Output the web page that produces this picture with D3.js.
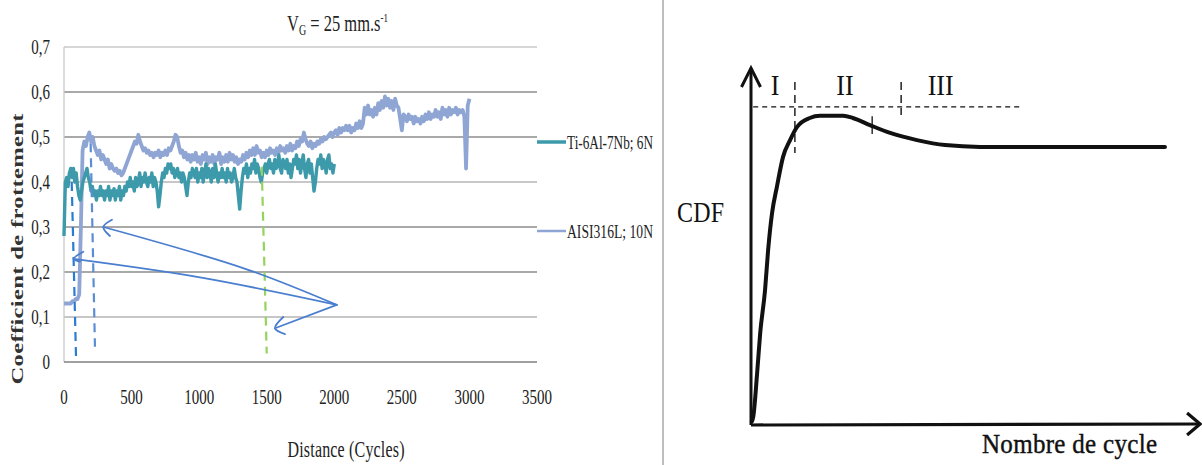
<!DOCTYPE html>
<html><head><meta charset="utf-8">
<script src="https://cdn.jsdelivr.net/npm/d3@7"></script>
<style>html,body{margin:0;padding:0;background:#fff;}svg{display:block;font-family:"Liberation Serif","Times New Roman",serif;}</style>
</head><body>
<svg id="c" width="1202" height="465"></svg>
<script>
// ---------- DATA (left chart) ----------
const yTicks = [0, 0.1, 0.2, 0.3, 0.4, 0.5, 0.6, 0.7];
const xTicks = [0, 500, 1000, 1500, 2000, 2500, 3000, 3500];
const seriesNames = ["Ti-6Al-7Nb; 6N", "AISI316L; 10N"];
const xLabel = "Distance (Cycles)";
const yLabel = "Coefficient de frottement";

const tiStep = 10;
const tiValues = [
0.28,0.40,0.41,0.39,0.42,0.43,0.41,0.43,0.40,0.42,
0.39,0.37,0.36,0.38,0.40,0.41,0.42,0.43,0.41,0.40,
0.38,0.39,0.37,0.38,0.36,0.38,0.37,0.39,0.37,0.38,
0.36,0.38,0.37,0.39,0.36,0.38,0.37,0.385,0.36,0.38,
0.37,0.39,0.36,0.38,0.37,0.39,0.38,0.40,0.39,0.41,
0.39,0.40,0.38,0.41,0.39,0.40,0.42,0.39,0.41,0.40,
0.42,0.40,0.39,0.41,0.40,0.42,0.39,0.41,0.40,0.38,
0.345,0.37,0.40,0.42,0.41,0.43,0.42,0.44,0.43,0.44,
0.42,0.43,0.41,0.42,0.43,0.41,0.42,0.40,0.42,0.41,
0.39,0.37,0.40,0.42,0.41,0.43,0.42,0.41,0.43,0.40,
0.42,0.41,0.43,0.40,0.42,0.44,0.41,0.43,0.42,0.40,
0.43,0.41,0.44,0.42,0.40,0.42,0.41,0.43,0.41,0.42,
0.40,0.43,0.41,0.42,0.40,0.41,0.43,0.41,0.40,0.37,
0.34,0.38,0.41,0.43,0.42,0.44,0.41,0.43,0.42,0.44,
0.43,0.45,0.42,0.44,0.43,0.41,0.40,0.42,0.43,0.44,
0.42,0.44,0.45,0.43,0.44,0.42,0.45,0.43,0.44,0.46,
0.43,0.42,0.45,0.44,0.43,0.45,0.42,0.44,0.41,0.43,
0.45,0.44,0.46,0.43,0.45,0.42,0.44,0.46,0.43,0.41,
0.44,0.45,0.42,0.44,0.41,0.38,0.40,0.43,0.45,0.44,
0.46,0.43,0.45,0.44,0.42,0.45,0.46,0.43,0.44,0.42,
0.44];

const aisiStep = 12.5;
const aisiValues = [
0.13,0.13,0.13,0.13,0.13,0.135,0.135,0.14,
0.14,0.15,0.30,0.47,0.49,0.48,0.50,0.51,
0.49,0.50,0.48,0.47,0.46,0.47,0.45,0.46,
0.45,0.44,0.45,0.43,0.44,0.43,0.425,0.43,
0.42,0.425,0.415,0.42,0.43,0.44,0.45,0.46,
0.47,0.48,0.49,0.485,0.505,0.49,0.48,0.47,
0.475,0.465,0.47,0.46,0.465,0.455,0.465,0.46,
0.47,0.455,0.465,0.46,0.47,0.46,0.475,0.47,
0.48,0.49,0.505,0.50,0.48,0.465,0.47,0.455,
0.465,0.45,0.46,0.445,0.46,0.45,0.465,0.445,
0.455,0.44,0.46,0.45,0.465,0.44,0.455,0.445,
0.46,0.44,0.455,0.45,0.465,0.44,0.455,0.445,
0.46,0.445,0.465,0.45,0.46,0.445,0.455,0.44,
0.45,0.445,0.46,0.45,0.465,0.455,0.47,0.46,
0.475,0.46,0.48,0.465,0.47,0.455,0.465,0.455,
0.47,0.46,0.475,0.465,0.47,0.46,0.475,0.465,
0.48,0.47,0.475,0.465,0.48,0.47,0.485,0.47,
0.48,0.475,0.49,0.48,0.495,0.49,0.51,0.495,
0.485,0.48,0.49,0.475,0.485,0.48,0.49,0.485,
0.495,0.49,0.50,0.495,0.50,0.505,0.51,0.50,
0.51,0.515,0.505,0.52,0.51,0.52,0.515,0.525,
0.515,0.525,0.51,0.52,0.515,0.53,0.52,0.535,
0.52,0.53,0.565,0.55,0.57,0.55,0.56,0.545,
0.565,0.55,0.575,0.56,0.58,0.565,0.59,0.57,
0.585,0.565,0.58,0.56,0.585,0.57,0.565,0.54,
0.515,0.55,0.545,0.535,0.55,0.54,0.545,0.53,
0.545,0.535,0.54,0.53,0.545,0.535,0.55,0.54,
0.555,0.54,0.55,0.545,0.56,0.545,0.555,0.54,
0.565,0.55,0.56,0.545,0.565,0.55,0.56,0.555,
0.565,0.55,0.56,0.555,0.56,0.545,0.43,0.57,
0.585];

// annotation marks in data units [cycles, coefficient]
const dashLineA = [[57, 0.40], [89, 0.01]];
const dashLineB = [[197, 0.486], [229, 0.034]];
const dashLineC = [[1463, 0.434], [1500, 0.019]];
const arrowUpperPath = [[2018, 0.127], [1352, 0.206], [291, 0.30]];
const arrowUpperHead = [[355, 0.316], [291, 0.30], [340, 0.28]];
const arrowLowerPath = [[2018, 0.127], [1006, 0.188], [71, 0.229]];
const arrowLowerHead = [[143, 0.245], [71, 0.229], [118, 0.223]];
const arrowDownPath = [[2018, 0.127], [1561, 0.075]];
const arrowDownHead = [[1623, 0.10], [1561, 0.075], [1635, 0.062]];

// ---------- DATA (right schematic) ----------
const cdfCycles = [0.2,0.5,1.4,2.1,3.2,3.9,4.8,5.9,7.3,8.9,10.5,13.4,15.7,21,23.2,27.1,31.7,37.8,44.2,52.2,94.3];
const cdfValues = [0.01,0.022,0.146,0.258,0.378,0.49,0.594,0.667,0.751,0.798,0.835,0.86,0.866,0.866,0.86,0.84,0.818,0.798,0.784,0.779,0.779];
const phaseLabels = ["I", "II", "III"];
const phaseLabelX = [5.5, 21.4, 43.2];
const phaseLabelY = 0.924;
const phaseBounds = [10, 34.2];
const phaseBoundTop = 0.961;
const phaseBoundBottom = [0.762, 0.868];
const plateauLevel = 0.891;
const plateauRange = [0.5, 61.3];
const curveTick = [27.6, 0.865, 0.815];
const rightXLabel = "Nombre de cycle";
const rightYLabel = "CDF";

// ---------- DRAW ----------
const svg = d3.select("#c");
const fmt = v => v === 0 ? "0" : d3.format(".1f")(v).replace(".", ",");

function stext(g, x, y, str, size, sx, sy, anchor) {
  return g.append("text")
    .attr("transform", `translate(${x},${y}) scale(${sx},${sy})`)
    .attr("font-size", size).attr("text-anchor", anchor || "start")
    .attr("fill", "#222").text(str);
}

const x = d3.scaleLinear().domain([0, 3500]).range([64, 537]);
const y = d3.scaleLinear().domain([0, 0.7]).range([362, 47]);

const L = svg.append("g");
L.selectAll("line.grid").data(yTicks.filter(v => v > 0)).join("line")
  .attr("x1", x(0)).attr("x2", x(3500))
  .attr("y1", d => y(d)).attr("y2", d => y(d))
  .attr("stroke", (d, i) => (i === 0 || i === 3) ? "#b4b4b4" : (d === 0.7 ? "#c8c8c8" : "#8c8c8c"))
  .attr("stroke-width", 1.3);
L.append("line").attr("x1", x(0)).attr("x2", x(0)).attr("y1", y(0)).attr("y2", y(0.7))
  .attr("stroke", "#c8c8c8").attr("stroke-width", 1.3);
L.append("line").attr("x1", x(0)).attr("x2", x(3500)).attr("y1", y(0)).attr("y2", y(0))
  .attr("stroke", "#808080").attr("stroke-width", 1.5);

yTicks.forEach(v => stext(L, 50, y(v) + 7, fmt(v), 15, 1, 1.4, "end"));
xTicks.forEach(v => stext(L, x(v), 404, String(v), 15, 1, 1.4, "middle"));

const tt = L.append("text").attr("transform", "translate(287,31) scale(1,1.45)")
  .attr("font-size", 16.5).attr("fill", "#222");
tt.append("tspan").text("V");
tt.append("tspan").attr("font-size", 10).attr("dy", 3).text("G");
tt.append("tspan").attr("dy", -3).text(" = 25 mm.s");
tt.append("tspan").attr("font-size", 9).attr("dy", -6).text("-1");

L.append("text").attr("transform", "translate(23,249) rotate(-90) scale(1.45,1)")
  .attr("font-size", 17).attr("font-weight", "bold").attr("text-anchor", "middle")
  .attr("fill", "#333").attr("textLength", 187).attr("lengthAdjust", "spacing").text(yLabel);
stext(L, 346, 457, xLabel, 16, 1, 1.45, "middle").attr("textLength", 117).attr("lengthAdjust", "spacing");

const tiColor = "#3d9aab", aisiColor = "#8fa5d3";
const line = d3.line().x(d => x(d[0])).y(d => y(d[1]));
const aisiPts = aisiValues.map((v, i) => [i * aisiStep, v]);
const tiPts = tiValues.map((v, i) => [i * tiStep, v]);
L.append("path").attr("d", line(aisiPts)).attr("fill", "none").attr("stroke", aisiColor)
  .attr("stroke-width", 3.8).attr("stroke-linejoin", "round");
L.append("path").attr("d", line(tiPts)).attr("fill", "none").attr("stroke", tiColor)
  .attr("stroke-width", 3.4).attr("stroke-linejoin", "round");

[[dashLineA, "#2a7bd2"], [dashLineB, "#5b8dd4"], [dashLineC, "#94d35c"]].forEach(([pts, c]) => {
  L.append("path").attr("d", line(pts)).attr("fill", "none").attr("stroke", c)
    .attr("stroke-width", 2.2).attr("stroke-dasharray", "9,6");
});

const cline = d3.line().x(d => x(d[0])).y(d => y(d[1])).curve(d3.curveCatmullRom);
const arrowColor = "#4a7ecf";
[arrowUpperPath, arrowLowerPath, arrowDownPath, arrowUpperHead, arrowLowerHead, arrowDownHead].forEach(p => {
  L.append("path").attr("d", cline(p)).attr("fill", "none").attr("stroke", arrowColor)
    .attr("stroke-width", 1.8).attr("stroke-linecap", "round").attr("stroke-linejoin", "round");
});

const legY = [142, 231];
[[tiColor, 3.5], [aisiColor, 2.5]].forEach(([c, w], i) => {
  L.append("line").attr("x1", 537).attr("x2", 566).attr("y1", legY[i]).attr("y2", legY[i])
    .attr("stroke", c).attr("stroke-width", w);
  stext(L, 567, legY[i] + 6.5, seriesNames[i], 13, 1, 1.5, "start")
    .attr("textLength", 86).attr("lengthAdjust", "spacingAndGlyphs");
});

svg.append("line").attr("x1", 663).attr("x2", 663).attr("y1", 0).attr("y2", 465)
  .attr("stroke", "#a8a8a8").attr("stroke-width", 1.5);

// ---------- right schematic ----------
const xr = d3.scaleLinear().domain([0, 100]).range([751, 1190]);
const yr = d3.scaleLinear().domain([0, 1]).range([425, 68]);
const R = svg.append("g");
const ink = "#111";

R.append("line").attr("x1", xr(0)).attr("x2", xr(0)).attr("y1", yr(0)).attr("y2", yr(1))
  .attr("stroke", ink).attr("stroke-width", 3);
R.append("line").attr("x1", xr(0)).attr("x2", xr(102.3)).attr("y1", yr(0)).attr("y2", yr(0) - 1)
  .attr("stroke", ink).attr("stroke-width", 3.2);
R.append("path").attr("d", `M${xr(0) - 9.5},${yr(1) + 19} L${xr(0)},${yr(1)} L${xr(0) + 9.5},${yr(1) + 19}`)
  .attr("fill", "none").attr("stroke", ink).attr("stroke-width", 3).attr("stroke-linejoin", "miter");
R.append("path").attr("d", `M${xr(102.3) - 13},${yr(0) - 12} L${xr(102.3)},${yr(0) - 1} L${xr(102.3) - 13},${yr(0) + 10}`)
  .attr("fill", "none").attr("stroke", ink).attr("stroke-width", 3.2).attr("stroke-linejoin", "miter");

R.append("line").attr("x1", xr(plateauRange[0])).attr("x2", xr(plateauRange[1]))
  .attr("y1", yr(plateauLevel)).attr("y2", yr(plateauLevel))
  .attr("stroke", ink).attr("stroke-width", 1.4).attr("stroke-dasharray", "5,4");
phaseBounds.forEach((b, i) => {
  R.append("line").attr("x1", xr(b)).attr("x2", xr(b))
    .attr("y1", yr(phaseBoundTop)).attr("y2", yr(phaseBoundBottom[i]))
    .attr("stroke", ink).attr("stroke-width", 1.4).attr("stroke-dasharray", "8,5");
});

const rline = d3.line().x((d, i) => xr(cdfCycles[i])).y(d => yr(d)).curve(d3.curveMonotoneX);
R.append("path").attr("d", rline(cdfValues)).attr("fill", "none").attr("stroke", ink)
  .attr("stroke-width", 4).attr("stroke-linecap", "round");
R.append("line").attr("x1", xr(curveTick[0])).attr("x2", xr(curveTick[0]))
  .attr("y1", yr(curveTick[1])).attr("y2", yr(curveTick[2])).attr("stroke", ink).attr("stroke-width", 1.3);

phaseLabels.forEach((t, i) => stext(R, xr(phaseLabelX[i]), yr(phaseLabelY), t, 26, 1, 1.15, "middle").attr("fill", ink));
stext(R, 677, 222, rightYLabel, 24, 1, 1.2, "start").attr("fill", ink).attr("textLength", 47);
stext(R, 982, 453, rightXLabel, 25, 1, 1.05, "start").attr("fill", ink).attr("textLength", 175)
  .attr("stroke", ink).attr("stroke-width", 0.4);
</script>
</body></html>
